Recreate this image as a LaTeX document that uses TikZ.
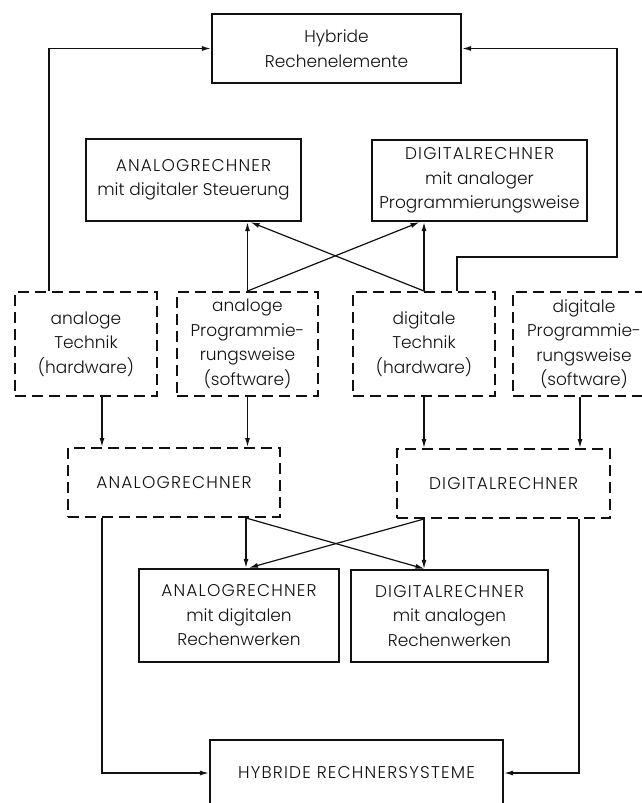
\documentclass[tikz,border=0pt]{standalone}
\usepackage{fontspec}
\setmainfont{Poppins}[UprightFont={* Light}]
\usepackage{xcolor}
\usepackage{tikz}
\usetikzlibrary{arrows.meta}
\definecolor{hrink}{HTML}{111111}
\newcommand{\capsp}[1]{{\addfontfeature{LetterSpace=7}#1}}
\tikzset{
  box/.style={draw=hrink,text=hrink,align=center,inner sep=0pt,font=\fontsize{17}{24.5}\selectfont},
  solidbox/.style={box,line width=2.3pt},
  dashbox/.style={box,line width=2pt,dash pattern=on 11pt off 6pt},
  ar/.style={-{Latex[length=9pt,width=5pt]},draw=hrink,line width=1.2pt},
}

\begin{document}
\begin{tikzpicture}[x=1pt,y=-1pt]
  \useasboundingbox (0,0) rectangle (642,803);
  % solid boxes
  \node[solidbox,minimum width=249pt,minimum height=69pt] (top) at (336.5,48.5) {Hybride\\Rechenelemente};
  \node[solidbox,minimum width=215pt,minimum height=82pt] (aSt) at (193.5,180) {\capsp{ANALOGRECHNER}\\mit digitaler Steuerung};
  \node[solidbox,minimum width=215pt,minimum height=81pt] (dPr) at (479.5,180.5) {\capsp{DIGITALRECHNER}\\mit analoger\\Programmierungsweise};
  % dashed boxes
  \node[dashbox,minimum width=142pt,minimum height=104pt] (aTech) at (86,344) {analoge\\Technik\\(hardware)};
  \node[dashbox,minimum width=141pt,minimum height=104pt] (aProg) at (247.5,344) {analoge\\Programmie-\\rungsweise\\(software)};
  \node[dashbox,minimum width=142pt,minimum height=104pt] (dTech) at (424,344) {digitale\\Technik\\(hardware)};
  \node[dashbox,minimum width=142pt,minimum height=104pt] (dProg) at (584,344) {digitale\\Programmie-\\rungsweise\\(software)};
  \node[dashbox,minimum width=212pt,minimum height=69pt] (AR) at (174,482.5) {\capsp{ANALOGRECHNER}};
  \node[dashbox,minimum width=213pt,minimum height=69pt] (DR) at (503.5,483.5) {\capsp{DIGITALRECHNER}};
  % results
  \node[solidbox,minimum width=200pt,minimum height=93pt] (ARd) at (239,615.5) {\capsp{ANALOGRECHNER}\\mit digitalen\\Rechenwerken};
  \node[solidbox,minimum width=197pt,minimum height=92pt] (DRa) at (449.5,616) {\capsp{DIGITALRECHNER}\\mit analogen\\Rechenwerken};
  \node[solidbox,minimum width=293pt,minimum height=66pt] (HYB) at (356.5,773) {\capsp{HYBRIDE RECHNERSYSTEME}};
  \coordinate (rloop) at (617,257);
  % upper part
  \draw[ar] ([xshift=-37pt]aTech.north) |- (top.west);
  \draw[ar] ([xshift=33pt]dTech.north) |- (rloop) |- (top.east);
  \draw[ar] (aProg.north) -- (aProg.north |- aSt.south);
  \draw[ar] (aProg.north) -- ([xshift=-60pt]dPr.south);
  \draw[ar] (dTech.north) -- (dTech.north |- dPr.south);
  \draw[ar] (dTech.north) -- ([xshift=57pt]aSt.south);
  % lower part
  \draw[ar] ([xshift=16pt]aTech.south) -- ([xshift=16pt]aTech.south |- AR.north);
  \draw[ar] (aProg.south) -- (aProg.south |- AR.north);
  \draw[ar] (dTech.south) -- (dTech.south |- DR.north);
  \draw[ar] ([xshift=-4pt]dProg.south) -- ([xshift=-4pt]dProg.south |- DR.north);
  \draw[ar] ([xshift=72pt]AR.south) -- ([xshift=72pt]AR.south |- ARd.north);
  \draw[ar] ([xshift=72pt]AR.south) -- ([xshift=-25pt]DRa.north);
  \draw[ar] ([xshift=-79.5pt]DR.south) -- ([xshift=-79.5pt]DR.south |- DRa.north);
  \draw[ar] ([xshift=-79.5pt]DR.south) -- ([xshift=10pt]ARd.north);
  \draw[ar] ([xshift=-72pt]AR.south) |- (HYB.west);
  \draw[ar] ([xshift=75.5pt]DR.south) |- (HYB.east);
\end{tikzpicture}
\end{document}
